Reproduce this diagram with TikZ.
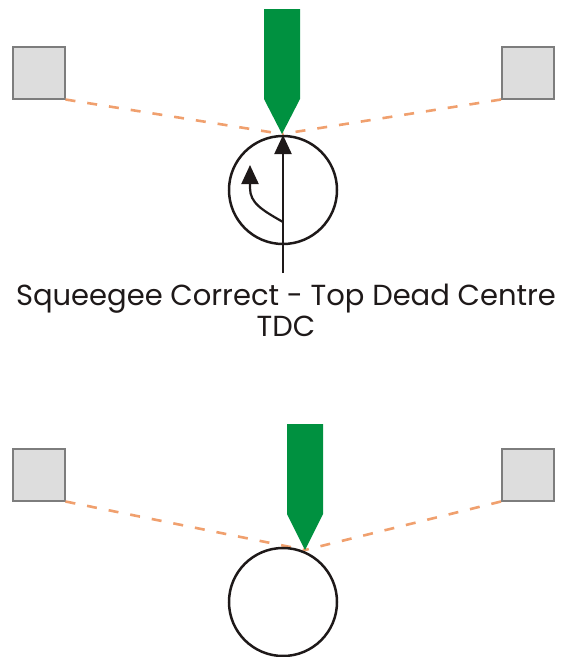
\documentclass[tikz,border=0pt]{standalone}
\usepackage{fontspec}
\setmainfont{Poppins}
\usetikzlibrary{arrows.meta}
\definecolor{blade}{RGB}{0,145,64}
\definecolor{dashc}{RGB}{240,160,110}
\definecolor{boxfill}{RGB}{221,221,221}
\definecolor{boxedge}{RGB}{125,125,125}
\definecolor{ink}{RGB}{30,25,25}
\tikzset{
  blk/.style={draw=boxedge,fill=boxfill,line width=1.5pt,minimum size=52pt,inner sep=0pt,anchor=north west},
  roller/.style={draw=ink,line width=2.5pt,circle,minimum size=108pt,inner sep=0pt},
  guide/.style={draw=dashc,line width=2.6pt,dash pattern=on 10pt off 12pt},
  bladefill/.style={fill=blade},
  arr/.style={draw=ink,line width=2.2pt,-{Triangle[length=19pt,width=17pt]}},
  lbl/.style={font=\fontsize{29}{34}\selectfont,text=ink,inner sep=0pt,anchor=base}
}
\begin{document}
\begin{tikzpicture}[x=1pt,y=-1pt]
\useasboundingbox (0,0) rectangle (561,657);
% ---------- top ----------
\node[blk] (tl) at (12,46) {};
\node[blk] (tr) at (501,46) {};
\coordinate (tip1) at (282,134);
\draw[guide] (tl.south east) -- (tip1);
\draw[guide] (tr.south west) -- (tip1);
\fill[bladefill] (264,9) -- (300,9) -- (300,99) -- (tip1) -- (264,99) -- cycle;
\node[roller] (c1) at (283,190) {};
\coordinate (base1) at (283,273);
\draw[arr] (base1) -- (283,135);
\coordinate (cs) at (283,222);
\draw[arr] (cs) .. controls (262,210) and (250,203) .. (250,188) -- (250,165);
\node[lbl] (t1) at (286,305) {Squeegee Correct - Top Dead Centre};
\node[lbl] (t2) at (286,336) {TDC};
% ---------- bottom ----------
\node[blk] (bl) at (12,448) {};
\node[blk] (br) at (501,448) {};
\coordinate (tip2) at (305,550);
\draw[guide] (bl.south east) -- (tip2);
\draw[guide] (br.south west) -- (tip2);
\fill[bladefill] (287,424) -- (323,424) -- (323,514) -- (tip2) -- (287,514) -- cycle;
\node[roller] (c2) at (283,602) {};
\end{tikzpicture}
\end{document}
